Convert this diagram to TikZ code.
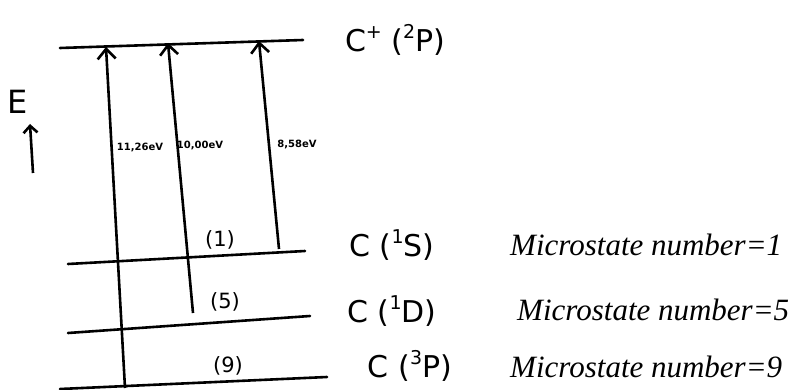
\documentclass[tikz,border=0pt]{standalone}
\usepackage{fontspec}
\setmainfont{Liberation Serif}
\newfontfamily\hand{DejaVu Sans}
\usetikzlibrary{arrows.meta}
\newcommand\hsup[1]{\raisebox{0.42em}{\fontsize{19}{19}\selectfont #1}}
\tikzset{
  lvl/.style={line width=2.6pt, line cap=round},
  trans/.style={line width=2.6pt, -{Straight Barb[length=10pt,width=18pt,line width=2.6pt]}},
  hlabel/.style={font=\hand\fontsize{30}{32}\selectfont, inner sep=0pt},
  nlabel/.style={font=\hand\fontsize{21}{23}\selectfont, inner sep=0pt},
  elabel/.style={font=\hand\bfseries\fontsize{10}{12}\selectfont, inner sep=0pt},
  mlabel/.style={font=\itshape\fontsize{31}{34}\selectfont, inner sep=0pt, anchor=west},
}
\begin{document}
\begin{tikzpicture}[x=1pt,y=-1pt]
\useasboundingbox (0,0) rectangle (800,390);
% levels
\coordinate (topL) at (60,48);  \coordinate (topR) at (303,40);
\coordinate (sL) at (68,264);   \coordinate (sR) at (305,251);
\coordinate (dL) at (68,333);   \coordinate (dR) at (310,316);
\coordinate (pL) at (60,389);   \coordinate (pR) at (327,377);
\draw[lvl] (topL) -- (topR);
\draw[lvl] (sL) -- (sR);
\draw[lvl] (dL) -- (dR);
\draw[lvl] (pL) -- (pR);
% transitions
\coordinate (a1s) at (125,388); \coordinate (a1e) at (106,47);
\coordinate (a2s) at (193,313); \coordinate (a2e) at (168,43);
\coordinate (a3s) at (279,249); \coordinate (a3e) at (259,41);
\draw[trans] (a1s) -- (a1e);
\draw[trans] (a2s) -- (a2e);
\draw[trans] (a3s) -- (a3e);
% energy axis
\node[font=\hand\fontsize{32}{34}\selectfont, inner sep=0pt] (E) at (18,102) {E};
\coordinate (eS) at (33,173); \coordinate (eE) at (30,124);
\draw[line width=2.6pt, -{Straight Barb[length=7pt,width=14pt,line width=2.6pt]}] (eS) -- (eE);
% labels
\node[hlabel] (cplus) at (395,40) {C\hsup{+} (\hsup{2}P)};
\node[hlabel] (c1s) at (392,245) {C (\hsup{1}S)};
\node[hlabel] (c1d) at (392,311) {C (\hsup{1}D)};
\node[hlabel] (c3p) at (410,366) {C (\hsup{3}P)};
\node[nlabel] (n1) at (220,240) {(1)};
\node[nlabel] (n5) at (225,302) {(5)};
\node[nlabel] (n9) at (228,366) {(9)};
\node[elabel] (e1) at (140,148) {11,26eV};
\node[elabel] (e2) at (200,146) {10,00eV};
\node[elabel] (e3) at (297,145) {8,58eV};
\node[mlabel] (m1) at (510,245) {Microstate number=1};
\node[mlabel] (m5) at (517,310) {Microstate number=5};
\node[mlabel] (m9) at (510,367) {Microstate number=9};
\end{tikzpicture}
\end{document}
